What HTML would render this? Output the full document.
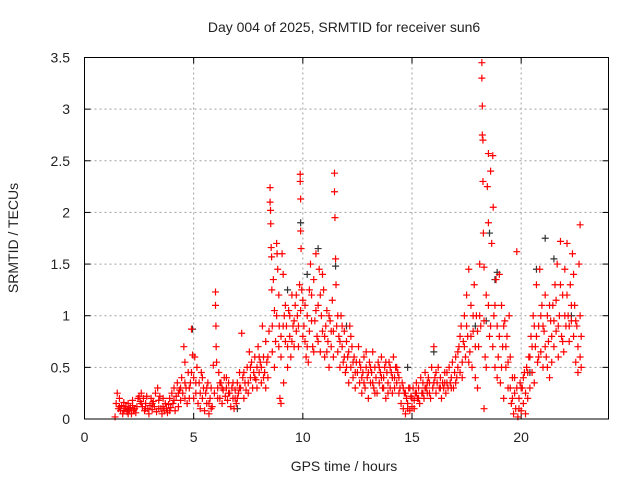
<!DOCTYPE html>
<html><head><meta charset="utf-8"><style>
body{margin:0;background:#fff}
svg text{font-family:"Liberation Sans",sans-serif;font-size:14px;fill:#222}
</style></head><body>
<svg id="chart" width="640" height="480" viewBox="0 0 640 480" xmlns="http://www.w3.org/2000/svg">
<rect width="640" height="480" fill="#fff"/>
<g id="grid"></g>
<g id="ticks"></g>
<g id="blk"></g>
<g id="red"></g>
<rect x="84.5" y="57.5" width="524" height="361.5" fill="none" stroke="#000" stroke-width="1"/>
<text x="344" y="32" text-anchor="middle">Day 004 of 2025, SRMTID for receiver sun6</text>
<text x="344" y="471" text-anchor="middle">GPS time / hours</text>
<text x="18" y="238" text-anchor="middle" transform="rotate(-90 18 238)">SRMTID / TECUs</text>
</svg>
<script>
const xTicks=[0,5,10,15,20];
const yTicks=[0,0.5,1,1.5,2,2.5,3,3.5];
const yTickLabels=["0","0.5","1","1.5","2","2.5","3","3.5"];
const blackPoints=[[4.95,0.87],[9.9,1.9],[10.7,1.65],[11.5,1.48],[18.55,1.8],[18.9,1.42],[21.1,1.75],[20.7,1.45],[21.5,1.55],[16.0,0.65],[10.2,1.4],[7.0,0.1],[2.0,0.1],[12.0,0.9],[14.8,0.5],[17.9,0.9],[18.4,0.95],[20.4,0.45],[22.3,1.0],[9.3,1.25],[18.8,1.35]];
const redPoints=[[1.4,0.02],[1.45,0.15],[1.5,0.25],[1.55,0.1],[1.6,0.2],[1.65,0.08],[1.7,0.13],[1.75,0.05],[1.8,0.16],[1.85,0.1],[1.9,0.12],[1.95,0.07],[2.0,0.15],[2.05,0.09],[2.1,0.11],[2.15,0.05],[2.2,0.13],[2.25,0.08],[2.3,0.1],[2.35,0.06],[2.4,0.12],[2.45,0.2],[2.5,0.22],[2.55,0.17],[2.6,0.25],[2.65,0.12],[2.7,0.2],[2.75,0.08],[2.8,0.15],[2.85,0.22],[2.9,0.1],[2.95,0.05],[3.0,0.13],[3.05,0.2],[3.1,0.09],[3.15,0.17],[3.2,0.12],[3.25,0.25],[3.3,0.07],[3.35,0.3],[3.4,0.18],[3.45,0.22],[3.5,0.1],[3.55,0.05],[3.6,0.12],[3.65,0.08],[3.7,0.15],[3.75,0.1],[3.8,0.06],[3.85,0.14],[3.9,0.2],[3.95,0.11],[4.0,0.25],[4.05,0.15],[4.1,0.3],[4.15,0.08],[4.2,0.22],[4.25,0.35],[4.3,0.12],[4.35,0.28],[4.4,0.18],[4.45,0.4],[4.5,0.25],[4.55,0.7],[4.6,0.55],[4.65,0.3],[4.7,0.15],[4.75,0.45],[4.8,0.2],[4.85,0.35],[4.9,0.87],[4.95,0.62],[5.0,0.4],[5.05,0.6],[5.1,0.25],[5.15,0.5],[5.2,0.15],[5.25,0.35],[5.3,0.1],[5.35,0.45],[5.4,0.2],[5.45,0.3],[5.5,0.08],[5.55,0.25],[5.6,0.15],[5.65,0.35],[5.7,0.05],[5.75,0.2],[5.8,0.3],[5.85,0.12],[5.9,0.52],[5.95,0.25],[6.0,1.23],[6.0,1.1],[6.02,0.9],[6.03,0.7],[6.05,0.55],[6.1,0.3],[6.15,0.45],[6.2,0.2],[6.25,0.35],[6.3,0.15],[6.35,0.28],[6.4,0.4],[6.45,0.22],[6.5,0.3],[6.55,0.18],[6.6,0.35],[6.65,0.25],[6.7,0.12],[6.75,0.3],[6.8,0.2],[6.85,0.1],[6.9,0.28],[6.95,0.15],[7.0,0.35],[7.05,0.25],[7.1,0.45],[7.15,0.3],[7.2,0.83],[7.25,0.4],[7.3,0.2],[7.35,0.35],[7.4,0.28],[7.45,0.5],[7.5,0.35],[7.55,0.65],[7.6,0.4],[7.65,0.55],[7.7,0.3],[7.75,0.45],[7.8,0.6],[7.85,0.38],[7.9,0.5],[7.95,0.7],[8.0,0.45],[8.05,0.55],[8.1,0.35],[8.15,0.9],[8.2,0.6],[8.25,0.45],[8.3,0.75],[8.35,0.55],[8.4,0.4],[8.45,0.85],[8.5,2.24],[8.5,2.1],[8.52,2.02],[8.53,1.89],[8.55,1.66],[8.57,1.57],[8.58,1.25],[8.6,0.65],[8.65,1.35],[8.7,1.05],[8.75,0.75],[8.8,1.7],[8.82,1.6],[8.85,1.45],[8.9,1.2],[8.92,0.9],[8.95,0.2],[9.0,0.15],[9.0,0.6],[9.05,1.6],[9.1,1.4],[9.12,0.35],[9.15,1.0],[9.2,0.75],[9.25,0.9],[9.3,0.5],[9.35,1.05],[9.4,0.8],[9.45,0.6],[9.5,1.2],[9.55,0.9],[9.6,0.7],[9.65,1.1],[9.7,0.85],[9.75,1.0],[9.8,0.7],[9.85,1.3],[9.88,2.37],[9.88,2.3],[9.9,2.13],[9.9,1.82],[9.92,1.65],[9.95,1.25],[10.0,1.15],[10.05,0.9],[10.1,0.75],[10.15,0.6],[10.2,1.0],[10.25,0.55],[10.3,0.85],[10.35,1.5],[10.4,1.2],[10.45,0.7],[10.5,1.35],[10.55,0.95],[10.6,1.6],[10.65,0.8],[10.7,1.1],[10.75,1.45],[10.8,0.65],[10.85,1.0],[10.9,0.85],[10.95,1.25],[11.0,0.6],[11.05,0.9],[11.1,1.05],[11.15,0.75],[11.2,0.5],[11.25,0.95],[11.3,0.7],[11.35,1.15],[11.4,0.85],[11.45,2.38],[11.45,2.2],[11.47,1.95],[11.5,1.55],[11.52,1.3],[11.55,0.9],[11.6,0.65],[11.65,0.8],[11.7,0.5],[11.75,1.0],[11.8,0.7],[11.85,0.55],[11.9,0.85],[11.95,0.45],[12.0,0.75],[12.05,0.6],[12.1,0.35],[12.15,0.9],[12.2,0.5],[12.25,0.7],[12.3,0.4],[12.35,0.6],[12.4,0.3],[12.45,0.55],[12.5,0.45],[12.55,0.7],[12.6,0.35],[12.65,0.5],[12.7,0.25],[12.75,0.45],[12.8,0.6],[12.85,0.3],[12.9,0.5],[12.95,0.4],[13.0,0.2],[13.05,0.55],[13.1,0.35],[13.15,0.45],[13.2,0.65],[13.25,0.3],[13.3,0.5],[13.35,0.4],[13.4,0.25],[13.45,0.55],[13.5,0.35],[13.55,0.45],[13.6,0.6],[13.65,0.3],[13.7,0.4],[13.75,0.5],[13.8,0.2],[13.85,0.45],[13.9,0.35],[13.95,0.55],[14.0,0.3],[14.05,0.45],[14.1,0.25],[14.15,0.6],[14.2,0.4],[14.25,0.5],[14.3,0.35],[14.35,0.45],[14.4,0.25],[14.45,0.3],[14.5,0.15],[14.55,0.35],[14.6,0.1],[14.65,0.25],[14.7,0.05],[14.75,0.2],[14.8,0.15],[14.85,0.3],[14.9,0.08],[14.95,0.22],[15.0,0.12],[15.05,0.3],[15.1,0.18],[15.15,0.25],[15.2,0.35],[15.25,0.2],[15.3,0.3],[15.35,0.15],[15.4,0.4],[15.45,0.25],[15.5,0.35],[15.55,0.2],[15.6,0.45],[15.65,0.3],[15.7,0.25],[15.75,0.4],[15.8,0.35],[15.85,0.2],[15.9,0.5],[15.95,0.3],[16.0,0.7],[16.05,0.4],[16.1,0.25],[16.15,0.35],[16.2,0.5],[16.25,0.3],[16.3,0.4],[16.35,0.2],[16.4,0.35],[16.45,0.3],[16.5,0.45],[16.55,0.25],[16.6,0.35],[16.65,0.3],[16.7,0.5],[16.75,0.35],[16.8,0.4],[16.85,0.55],[16.9,0.3],[16.95,0.45],[17.0,0.6],[17.05,0.4],[17.1,0.5],[17.15,0.7],[17.2,0.45],[17.25,0.9],[17.3,0.55],[17.35,0.75],[17.4,1.0],[17.45,0.6],[17.5,1.2],[17.55,0.8],[17.6,1.45],[17.65,0.65],[17.7,1.1],[17.75,0.5],[17.8,0.85],[17.85,1.3],[17.9,0.4],[17.95,1.0],[18.0,0.3],[18.05,0.7],[18.1,1.5],[18.15,0.9],[18.2,3.45],[18.2,3.3],[18.22,3.03],[18.22,2.75],[18.25,2.7],[18.25,2.3],[18.27,1.8],[18.3,1.47],[18.3,0.1],[18.35,0.6],[18.4,1.2],[18.45,2.25],[18.5,2.57],[18.5,1.9],[18.55,0.8],[18.6,2.4],[18.65,1.7],[18.7,2.55],[18.72,2.05],[18.75,1.0],[18.8,0.5],[18.85,1.35],[18.9,0.9],[18.95,0.6],[19.0,1.4],[19.05,0.35],[19.1,1.1],[19.15,0.7],[19.2,0.2],[19.25,0.95],[19.3,0.5],[19.35,0.8],[19.4,0.3],[19.45,1.0],[19.5,0.6],[19.55,0.15],[19.6,0.4],[19.65,0.05],[19.7,0.25],[19.75,0.1],[19.8,1.62],[19.85,0.02],[19.9,0.2],[19.95,0.35],[20.0,0.08],[20.05,0.3],[20.1,0.15],[20.15,0.45],[20.2,0.05],[20.25,0.5],[20.3,0.2],[20.35,0.6],[20.4,0.3],[20.45,0.8],[20.5,0.45],[20.55,1.0],[20.6,0.35],[20.65,0.7],[20.7,1.3],[20.75,0.55],[20.8,0.9],[20.85,1.45],[20.9,0.65],[20.95,1.1],[21.0,0.5],[21.05,0.85],[21.1,1.2],[21.15,0.6],[21.2,1.0],[21.25,0.75],[21.3,0.4],[21.35,0.95],[21.4,0.55],[21.45,1.1],[21.5,0.7],[21.55,1.3],[21.6,0.85],[21.65,1.5],[21.7,0.6],[21.75,1.0],[21.8,1.72],[21.85,0.8],[21.9,1.2],[21.95,0.65],[22.0,1.45],[22.05,0.9],[22.1,1.7],[22.15,1.0],[22.2,0.75],[22.25,1.3],[22.3,0.95],[22.35,1.6],[22.4,0.8],[22.45,1.1],[22.5,0.55],[22.55,0.9],[22.6,0.45],[22.65,1.5],[22.7,1.88],[22.7,0.6],[22.75,0.8]];
const redPointsExtra=[[1.6,0.12],[1.8,0.08],[2.0,0.05],[2.2,0.18],[2.6,0.15],[2.8,0.1],[3.1,0.15],[3.4,0.1],[3.6,0.2],[3.9,0.08],[4.1,0.18],[4.3,0.25],[4.4,0.3],[4.6,0.35],[4.6,0.2],[4.8,0.3],[4.9,0.45],[5.0,0.2],[5.1,0.35],[5.3,0.25],[5.4,0.4],[5.6,0.3],[5.7,0.15],[5.8,0.1],[6.1,0.2],[6.2,0.35],[6.3,0.3],[6.5,0.4],[6.6,0.25],[6.8,0.35],[6.9,0.2],[7.0,0.2],[7.1,0.3],[7.3,0.45],[7.5,0.25],[7.6,0.5],[7.8,0.4],[7.9,0.3],[8.0,0.6],[8.1,0.5],[8.2,0.4],[8.3,0.3],[8.4,0.6],[8.6,0.9],[8.7,0.5],[8.8,1.0],[8.9,0.7],[9.0,0.8],[9.1,0.9],[9.2,1.1],[9.3,0.7],[9.4,1.0],[9.5,0.75],[9.6,0.95],[9.7,1.2],[9.8,0.9],[9.9,1.05],[10.0,0.8],[10.1,1.1],[10.2,0.7],[10.3,1.25],[10.4,0.95],[10.5,0.65],[10.6,1.05],[10.7,0.75],[10.8,1.2],[10.9,1.4],[11.0,0.8],[11.1,0.65],[11.2,1.0],[11.3,0.85],[11.4,0.6],[11.6,1.0],[11.7,0.75],[11.8,0.9],[11.9,0.6],[12.0,0.5],[12.1,0.65],[12.2,0.8],[12.3,0.55],[12.4,0.45],[12.6,0.55],[12.7,0.4],[12.8,0.35],[12.9,0.65],[13.0,0.45],[13.1,0.5],[13.2,0.35],[13.3,0.25],[13.5,0.5],[13.6,0.4],[13.7,0.3],[13.8,0.55],[13.9,0.25],[14.0,0.5],[14.1,0.4],[14.2,0.3],[14.3,0.5],[14.4,0.4],[14.6,0.3],[14.7,0.25],[14.8,0.1],[14.9,0.3],[15.0,0.2],[15.1,0.1],[15.2,0.25],[15.3,0.2],[15.5,0.25],[15.6,0.3],[15.7,0.35],[15.8,0.25],[16.0,0.35],[16.1,0.45],[16.3,0.3],[16.5,0.35],[16.6,0.45],[16.8,0.3],[17.0,0.35],[17.1,0.65],[17.2,0.8],[17.3,0.4],[17.4,0.7],[17.5,0.9],[17.6,0.55],[17.7,0.8],[17.8,1.0],[17.9,0.7],[18.0,0.85],[18.1,1.0],[18.3,0.95],[18.4,0.5],[18.5,1.1],[18.6,0.9],[18.7,0.7],[18.8,1.1],[18.9,0.4],[19.0,0.8],[19.1,0.5],[19.2,0.9],[19.3,0.7],[19.4,0.55],[19.5,0.3],[19.6,0.2],[19.7,0.4],[19.8,0.3],[19.9,0.1],[20.0,0.3],[20.1,0.4],[20.2,0.25],[20.3,0.45],[20.4,0.6],[20.5,0.7],[20.6,0.9],[20.7,0.8],[20.8,0.6],[20.9,1.0],[21.0,0.9],[21.1,0.7],[21.2,0.5],[21.3,1.1],[21.4,0.8],[21.5,0.95],[21.6,1.15],[21.7,0.9],[21.8,1.3],[21.9,0.75],[22.0,1.0],[22.1,1.2],[22.2,0.9],[22.3,1.1],[22.4,1.4],[22.5,0.95],[22.6,0.7],[22.7,1.0],[22.75,0.5]];

const X0=84.5,X1=608.5,Y0=419,Y1=57.5,XMAX=24,YMAX=3.5;
function sx(h){return X0+(X1-X0)*h/XMAX;}
function sy(v){return Y0-(Y0-Y1)*v/YMAX;}
const NS="http://www.w3.org/2000/svg";
function mk(tag,attrs,parent){const e=document.createElementNS(NS,tag);for(const k in attrs)e.setAttribute(k,attrs[k]);parent.appendChild(e);return e;}
const grid=document.getElementById('grid'),ticks=document.getElementById('ticks');
xTicks.forEach(t=>{
  const x=sx(t);
  if(t>0){const g=mk('line',{x1:x,x2:x,y1:Y1,y2:Y0,stroke:'#a0a0a0','stroke-dasharray':'2,3'},grid);
  
  }
  mk('line',{x1:x,x2:x,y1:Y0,y2:Y0-6,stroke:'#000'},ticks);
  mk('line',{x1:x,x2:x,y1:Y1,y2:Y1+6,stroke:'#000'},ticks);
  const tx=mk('text',{x:x,y:442,'text-anchor':'middle'},ticks);
  
  
  tx.textContent=String(t);
});
yTicks.forEach((t,i)=>{
  const y=sy(t);
  if(t>0&&t<YMAX){const g=mk('line',{x1:X0,x2:X1,y1:y,y2:y,stroke:'#a0a0a0','stroke-dasharray':'2,3'},grid);
  
  }
  mk('line',{x1:X0,x2:X0+6,y1:y,y2:y,stroke:'#000'},ticks);
  mk('line',{x1:X1,x2:X1-6,y1:y,y2:y,stroke:'#000'},ticks);
  const tx=mk('text',{x:70,y:y+5,'text-anchor':'end'},ticks);
  
  
  tx.textContent=yTickLabels[i];
});
function plus(g,p,col,name){
  const x=sx(p[0]),y=sy(p[1]);
  const e=mk('path',{d:`M${x-3.5},${y}H${x+3.5}M${x},${y-3.5}V${y+3.5}`,stroke:col,'stroke-width':1.2,fill:'none'},g);
  
  
}
const blk=document.getElementById('blk'),red=document.getElementById('red');
blackPoints.forEach(p=>plus(blk,p,'#333','black-point'));
redPoints.forEach(p=>plus(red,p,'#ff0000','red-point'));
redPointsExtra.forEach(p=>plus(red,p,'#ff0000','red-point'));
</script>
</body></html>
